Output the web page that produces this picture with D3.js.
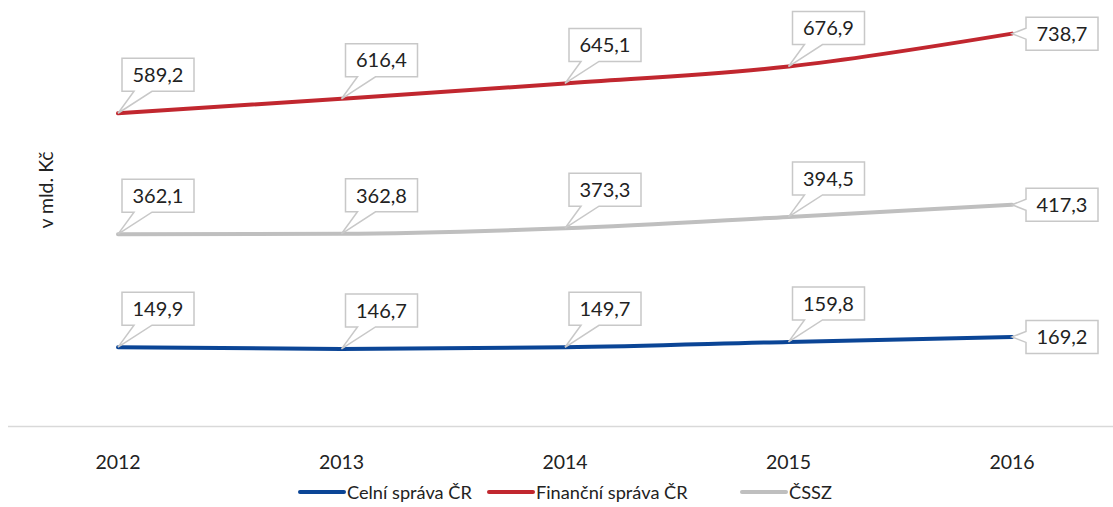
<!DOCTYPE html>
<html>
<head>
<meta charset="utf-8">
<script src="https://cdn.jsdelivr.net/npm/d3@7"></script>
<style>
  body { margin: 0; background: #fff; }
  svg { display: block; font-family: Lato, "Open Sans", sans-serif; }
</style>
</head>
<body>
<div id="chart"></div>
<script>
// Data
const years = ["2012", "2013", "2014", "2015", "2016"];
const celni = [149.9, 146.7, 149.7, 159.8, 169.2];
const financni = [589.2, 616.4, 645.1, 676.9, 738.7];
const cssz = [362.1, 362.8, 373.3, 394.5, 417.3];
const seriesNames = ["Celní správa ČR", "Finanční správa ČR", "ČSSZ"];

const series = [
    { name: seriesNames[0], values: celni, color: "#0b4596" },
    { name: seriesNames[1], values: financni, color: "#c1272f" },
    { name: seriesNames[2], values: cssz, color: "#bfbfbf" }
];

const width = 1113;
const height = 507;

const svg = d3.select("#chart")
    .append("svg")
    .attr("width", width)
    .attr("height", height);

// Scales
const xScale = d3.scalePoint()
    .domain(years)
    .range([118, 1012]);

const yScale = d3.scaleLinear()
    .domain([0, 800])
    .range([427, 1]);

// Baseline axis
svg.append("line")
    .attr("x1", 8)
    .attr("x2", width)
    .attr("y1", 426.5)
    .attr("y2", 426.5)
    .attr("stroke", "#d9d9d9")
    .attr("stroke-width", 1.5);

// Year labels
svg.append("g")
    .selectAll("text")
    .data(years)
    .join("text")
    .attr("x", d => xScale(d))
    .attr("y", 469)
    .attr("text-anchor", "middle")
    .style("font-size", "19.5px")
    .style("fill", "#222")
    .text(d => d);

// Y-axis label
svg.append("text")
    .attr("transform", "translate(53, 190) rotate(-90)")
    .attr("text-anchor", "middle")
    .style("font-size", "19.5px")
    .style("fill", "#222")
    .text("v mld. Kč");

// Lines
const line = d3.line()
    .x((d, i) => xScale(years[i]))
    .y(d => yScale(d))
    .curve(d3.curveMonotoneX);

svg.append("g")
    .selectAll("path")
    .data(series)
    .join("path")
    .attr("fill", "none")
    .attr("stroke", d => d.color)
    .attr("stroke-width", 4)
    .attr("stroke-linecap", "round")
    .attr("d", d => line(d.values));

// Callout labels
const fmt = v => v.toFixed(1).replace(".", ",");
const boxW = 72, boxH = 33;
const labels = svg.append("g");

series.forEach(s => {
    s.values.forEach((v, i) => {
        const px = xScale(years[i]);
        const py = yScale(v);
        let path, tx, ty;
        if (i < years.length - 1) {
            const l = px + 4, b = py - 22, t = b - boxH, r = l + boxW;
            path = `M${l},${t}H${r}V${b}H${l + 30}L${px},${py}L${l + 12},${b}H${l}Z`;
            tx = l + boxW / 2;
            ty = t + boxH / 2;
        } else {
            const l = px + 14, t = py - boxH / 2, b = t + boxH, r = l + boxW;
            path = `M${l},${t}H${r}V${b}H${l}V${t + 22}L${px},${py}L${l},${t + 11}Z`;
            tx = l + boxW / 2;
            ty = t + boxH / 2;
        }
        labels.append("path")
            .attr("d", path)
            .attr("fill", "#fff")
            .attr("stroke", "#c8c8c8")
            .attr("stroke-width", 1.5);
        labels.append("text")
            .attr("x", tx)
            .attr("y", ty)
            .attr("dy", "0.36em")
            .attr("text-anchor", "middle")
            .style("font-size", "20px")
            .style("fill", "#222")
            .text(fmt(v));
    });
});

// Legend
const legend = svg.append("g")
    .attr("transform", "translate(0, 492)");

const legendX = [298, 487, 740];
series.forEach((s, i) => {
    const g = legend.append("g")
        .attr("transform", `translate(${legendX[i]}, 0)`);
    g.append("line")
        .attr("x1", 2)
        .attr("x2", 46)
        .attr("y1", 0)
        .attr("y2", 0)
        .attr("stroke", s.color)
        .attr("stroke-width", 4)
        .attr("stroke-linecap", "round");
    g.append("text")
        .attr("x", 49)
        .attr("y", 0)
        .attr("dy", "0.36em")
        .style("font-size", "18.2px")
        .style("fill", "#222")
        .text(s.name);
});
</script>
</body>
</html>
